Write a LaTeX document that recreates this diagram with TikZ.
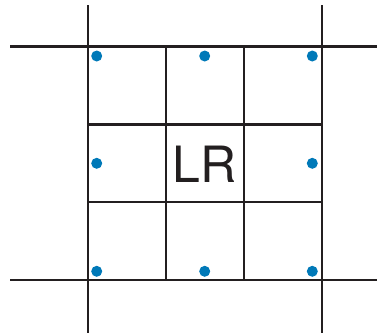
\documentclass[tikz,border=0pt]{standalone}
\usepackage{fontspec}
\setmainfont{TeX Gyre Heros}
\definecolor{gridc}{HTML}{231F20}
\definecolor{dotc}{HTML}{0079B8}
\begin{document}
\begin{tikzpicture}[x=1pt,y=-1pt,
  gridline/.style={draw=gridc,line width=2.2pt},
  dotmark/.style={circle,fill=dotc,inner sep=0pt,minimum size=11pt}]
\useasboundingbox (0,0) rectangle (377,333);
% outer lines
\coordinate (t1) at (88,5);   \coordinate (b1) at (88,333);
\coordinate (t4) at (322,5);  \coordinate (b4) at (322,333);
\coordinate (l1) at (10,46.5);  \coordinate (r1) at (377,46.5);
\coordinate (l4) at (10,280.3); \coordinate (r4) at (377,280.3);
\draw[gridline] (t1) -- (b1);
\draw[gridline] (t4) -- (b4);
\draw[gridline] (l1) -- (r1);
\draw[gridline] (l4) -- (r4);
% inner lines
\coordinate (t2) at (166,46.5); \coordinate (b2) at (166,280.3);
\coordinate (t3) at (244,46.5); \coordinate (b3) at (244,280.3);
\coordinate (l2) at (88,124.5); \coordinate (r2) at (322,124.5);
\coordinate (l3) at (88,202.3); \coordinate (r3) at (322,202.3);
\draw[gridline] (t2) -- (b2);
\draw[gridline] (t3) -- (b3);
\draw[gridline] (l2) -- (r2);
\draw[gridline] (l3) -- (r3);
% dots
\node[dotmark] (d1) at (96.7,56) {};
\node[dotmark] (d2) at (204.7,56) {};
\node[dotmark] (d3) at (312.3,56) {};
\node[dotmark] (d4) at (96.7,163.3) {};
\node[dotmark] (d5) at (312.3,163.3) {};
\node[dotmark] (d6) at (96.7,271.3) {};
\node[dotmark] (d7) at (204.7,271.3) {};
\node[dotmark] (d8) at (312.3,271.3) {};
% label
\node[text=gridc,font=\fontsize{50}{50}\selectfont,inner sep=0pt,anchor=base] (lr) at (204.5,182) {LR};
\end{tikzpicture}
\end{document}
